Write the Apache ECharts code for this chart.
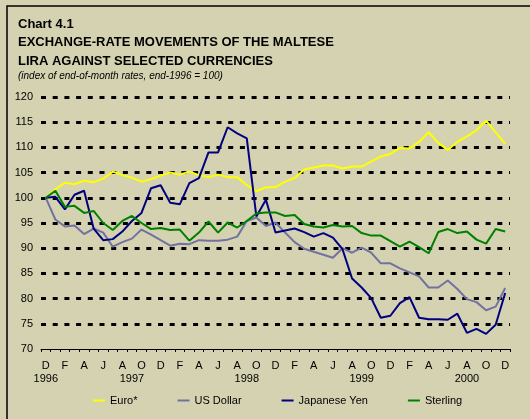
<!DOCTYPE html>
<html>
<head>
<meta charset="utf-8">
<script src="https://cdn.jsdelivr.net/npm/echarts@6/dist/echarts.min.js"></script>
<style>
  html, body { margin: 0; padding: 0; background: #fff; }
  #chart { width: 530px; height: 419px; }
</style>
</head>
<body>
<div id="chart"></div>
<script>
// month letters, Dec 1996 .. Dec 2000 (only every other one is printed)
const months = ['D','J','F','M','A','M','J','J','A','S','O','N',
                'D','J','F','M','A','M','J','J','A','S','O','N',
                'D','J','F','M','A','M','J','J','A','S','O','N',
                'D','J','F','M','A','M','J','J','A','S','O','N','D'];
const yearLabels = ['1996','1997','1998','1999','2000'];
const yearIdx = [0, 9, 21, 33, 44];
const yTicks = [70, 120, 5]; // min, max, step

const euro = [100,101.7,103.0,102.7,103.4,103.1,103.8,105.2,104.5,104.0,103.2,103.7,104.4,105.0,104.6,105.2,104.5,104.1,104.6,104.1,104.1,102.5,101.3,102.1,102.1,103.2,103.9,105.6,106.0,106.4,106.4,105.8,106.2,106.2,107.2,108.2,108.7,109.9,109.8,111.1,113.0,110.9,109.5,111.1,112.2,113.4,115.3,113.0,110.7];
const usd = [100,95.7,94.3,94.5,92.8,93.9,93.1,90.3,91.2,91.9,93.7,92.7,91.6,90.5,90.9,90.8,91.6,91.5,91.5,91.7,92.3,95.4,96.1,94.4,95.1,93.1,91.2,89.9,89.3,88.7,88.1,90.0,89.1,90.1,89.1,87.0,87.0,86.0,85.2,84.4,82.2,82.2,83.6,81.9,79.9,79.3,77.7,78.4,82.1];
const yen = [100,100.2,97.7,100.6,101.4,93.9,91.6,91.8,93.3,95.4,97.0,101.9,102.5,99.0,98.7,102.9,103.9,109.0,109.0,114.0,112.8,111.8,96.3,99.6,93.1,93.5,93.9,93.2,92.3,93.0,92.1,89.8,84.0,82.2,80.1,76.2,76.6,79.1,80.3,76.2,75.9,75.9,75.8,77.0,73.2,74.0,73.0,74.8,81.1];
const sterling = [100,101.4,98.2,98.4,97.0,97.4,95.0,93.6,95.4,96.4,95.0,93.8,94.0,93.6,93.7,91.5,93.1,95.3,93.1,95.1,94.1,95.4,96.9,97.1,97.1,96.4,96.6,94.8,94.3,94.1,94.6,94.3,94.4,93.0,92.5,92.5,91.4,90.3,91.3,90.2,89.0,93.2,93.8,93.0,93.3,91.7,90.9,93.8,93.3];

const font = 'Liberation Sans, Arial, sans-serif';
const chart = echarts.init(document.getElementById('chart'));

function line(name, data, color) {
    return {
        name: name,
        type: 'line',
        data: data,
        symbol: 'none',
        lineStyle: { color: color, width: 2 },
        itemStyle: { color: color }
    };
}

let option = {
    backgroundColor: '#D4D2B0',
    animation: false,
    textStyle: { fontFamily: font },
    title: [
        {
            text: 'Chart 4.1',
            left: 13, top: 13,
            textStyle: { fontSize: 13, fontWeight: 'bold', color: '#000', fontFamily: font }
        },
        {
            text: 'EXCHANGE-RATE MOVEMENTS OF THE MALTESE\nLIRA AGAINST SELECTED CURRENCIES',
            left: 13, top: 28,
            textStyle: { fontSize: 13, fontWeight: 'bold', color: '#000', lineHeight: 19, fontFamily: font }
        },
        {
            text: '(index of end-of-month rates, end-1996 = 100)',
            left: 13, top: 66,
            textStyle: { fontSize: 10, fontWeight: 'normal', fontStyle: 'italic', color: '#000', fontFamily: font }
        }
    ],
    graphic: [
        {
            type: 'polyline',
            shape: { points: [[7, 440], [7, 6], [560, 6]] },
            style: { stroke: '#000', lineWidth: 1.5, fill: null }
        }
    ],
    legend: {
        left: 88, top: 390,
        itemWidth: 12, itemHeight: 2,
        itemGap: 40,
        icon: 'rect',
        textStyle: { fontSize: 11, color: '#000', fontFamily: font },
        data: ['Euro*', 'US Dollar', 'Japanese Yen', 'Sterling']
    },
    grid: { left: 41, right: 20, top: 97, bottom: 70 },
    xAxis: {
        type: 'category',
        data: months,
        boundaryGap: true,
        axisLine: { lineStyle: { color: '#000', width: 1 } },
        axisTick: { show: true, interval: 0, length: 3, lineStyle: { color: '#000' } },
        axisLabel: {
            interval: 0,
            margin: 10,
            color: '#000',
            fontSize: 11,
            lineHeight: 13,
            fontFamily: font,
            formatter: function (v, i) {
                let m = (i % 2 === 0) ? v : '';
                let k = yearIdx.indexOf(i);
                let y = k >= 0 ? yearLabels[k] : '';
                return m + '\n' + y;
            }
        },
        splitLine: { show: false }
    },
    yAxis: {
        type: 'value',
        min: yTicks[0], max: yTicks[1], interval: yTicks[2],
        axisLine: { show: false },
        axisTick: { show: false },
        axisLabel: { color: '#000', fontSize: 11, margin: 8, fontFamily: font },
        splitLine: {
            show: true,
            showMinLine: false,
            lineStyle: { color: '#000', width: 3, type: [5, 6.7] }
        }
    },
    series: [
        line('Euro*', euro, '#FFFF00'),
        line('US Dollar', usd, '#7272A2'),
        line('Japanese Yen', yen, '#000080'),
        line('Sterling', sterling, '#008000')
    ]
};
chart.setOption(option);
</script>
</body>
</html>
